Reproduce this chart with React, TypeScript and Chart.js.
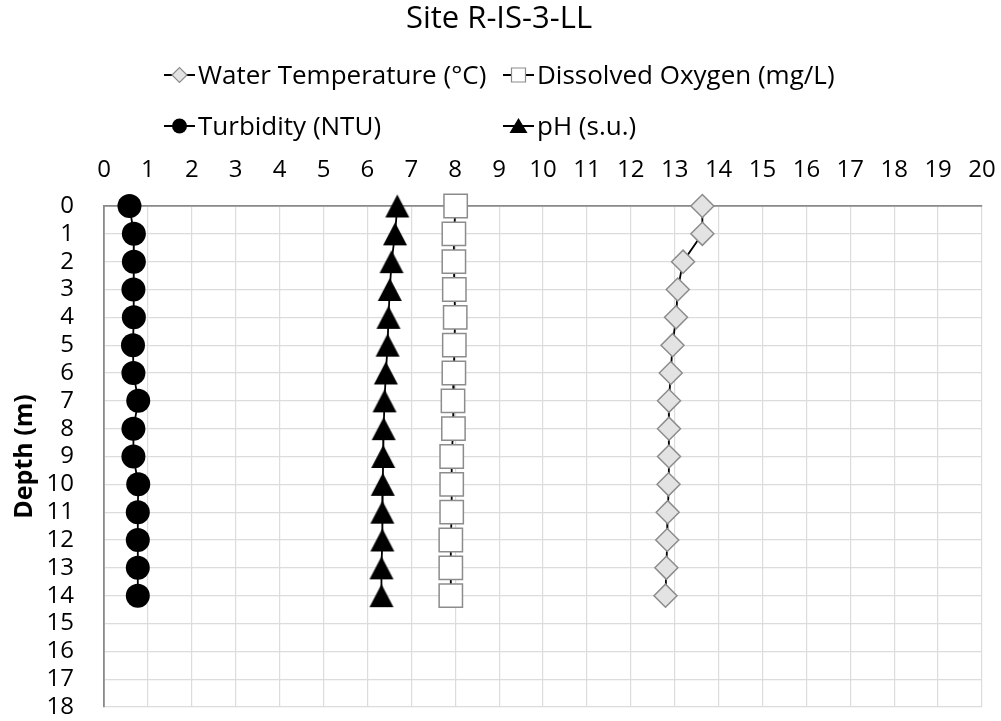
import React, { useEffect, useRef } from 'react';
import { Chart, registerables } from 'chart.js';

Chart.register(...registerables);

// ---------- data ----------
const chartTitle = 'Site R-IS-3-LL';
const depths = [0, 1, 2, 3, 4, 5, 6, 7, 8, 9, 10, 11, 12, 13, 14];
const waterTemperature = [13.63, 13.63, 13.19, 13.07, 13.03, 12.95, 12.91, 12.87, 12.87, 12.87, 12.86, 12.84, 12.83, 12.81, 12.79];
const dissolvedOxygen = [8.01, 7.97, 7.97, 7.98, 8.0, 7.98, 7.97, 7.95, 7.96, 7.92, 7.92, 7.92, 7.9, 7.9, 7.9];
const turbidity = [0.58, 0.68, 0.68, 0.67, 0.68, 0.66, 0.67, 0.78, 0.67, 0.67, 0.78, 0.77, 0.77, 0.77, 0.77];
const pH = [6.68, 6.63, 6.55, 6.51, 6.48, 6.46, 6.42, 6.39, 6.37, 6.36, 6.35, 6.34, 6.34, 6.32, 6.32];
const seriesNames = ['Water Temperature (°C)', 'Dissolved Oxygen (mg/L)', 'Turbidity (NTU)', 'pH (s.u.)'];
const xMin = 0;
const xMax = 20;
const yMin = 0;
const yMax = 18;
const yAxisTitle = 'Depth (m)';

const FONT = '"Open Sans", "Noto Sans", sans-serif';

function pts(values: number[]) {
  return values.map((v, i) => ({ x: v, y: depths[i] }));
}

function makeTriangle(w: number, h: number) {
  const c = document.createElement('canvas');
  c.width = w + 2;
  c.height = h + 2;
  const g = c.getContext('2d')!;
  g.fillStyle = '#000';
  g.beginPath();
  g.moveTo(c.width / 2, 1);
  g.lineTo(w + 1, h + 1);
  g.lineTo(1, h + 1);
  g.closePath();
  g.fill();
  return c;
}

type Marker = 'diamond' | 'square' | 'circle' | 'triangle';

function drawMarker(ctx: CanvasRenderingContext2D, kind: Marker, x: number, y: number) {
  ctx.save();
  ctx.beginPath();
  if (kind === 'diamond') {
    const r = 7.5;
    ctx.moveTo(x - r, y);
    ctx.lineTo(x, y - r);
    ctx.lineTo(x + r, y);
    ctx.lineTo(x, y + r);
    ctx.closePath();
    ctx.fillStyle = '#e3e3e3';
    ctx.fill();
    ctx.strokeStyle = '#8c8c8c';
    ctx.lineWidth = 1.2;
    ctx.stroke();
  } else if (kind === 'square') {
    const s = 7;
    ctx.rect(x - s, y - s, 2 * s, 2 * s);
    ctx.fillStyle = '#ffffff';
    ctx.fill();
    ctx.strokeStyle = '#8c8c8c';
    ctx.lineWidth = 1.2;
    ctx.stroke();
  } else if (kind === 'circle') {
    ctx.arc(x, y, 7.5, 0, Math.PI * 2);
    ctx.fillStyle = '#000';
    ctx.fill();
  } else {
    ctx.moveTo(x, y - 8);
    ctx.lineTo(x + 9, y + 7);
    ctx.lineTo(x - 9, y + 7);
    ctx.closePath();
    ctx.fillStyle = '#000';
    ctx.fill();
  }
  ctx.restore();
}

const legendItems: { name: string; marker: Marker; col: number; row: number }[] = [
  { name: seriesNames[0], marker: 'diamond', col: 0, row: 0 },
  { name: seriesNames[1], marker: 'square', col: 1, row: 0 },
  { name: seriesNames[2], marker: 'circle', col: 0, row: 1 },
  { name: seriesNames[3], marker: 'triangle', col: 1, row: 1 },
];

const overlayPlugin = {
  id: 'titleAndLegend',
  afterDraw(chart: any) {
    const ctx: CanvasRenderingContext2D = chart.ctx;
    ctx.save();
    ctx.fillStyle = '#000';
    ctx.textAlign = 'center';
    ctx.textBaseline = 'alphabetic';
    ctx.font = `31px ${FONT}`;
    ctx.fillText(chartTitle, 499, 28);

    const colX = [164, 503];
    const rowY = [75, 126];
    legendItems.forEach((it) => {
      const x0 = colX[it.col];
      const cy = rowY[it.row];
      ctx.beginPath();
      ctx.moveTo(x0, cy);
      ctx.lineTo(x0 + 31, cy);
      ctx.strokeStyle = '#000';
      ctx.lineWidth = 2;
      ctx.stroke();
      drawMarker(ctx, it.marker, x0 + 15.5, cy);
      ctx.fillStyle = '#000';
      ctx.textAlign = 'left';
      ctx.textBaseline = 'alphabetic';
      ctx.font = `26px ${FONT}`;
      ctx.fillText(it.name, x0 + 34, cy + 9);
    });
    ctx.restore();
  },
};

export default function App() {
  const ref = useRef<HTMLCanvasElement | null>(null);

  useEffect(() => {
    if (!ref.current) return;
    const tri = makeTriangle(24, 23);
    const common = { showLine: true, borderColor: '#000', borderWidth: 1.8, clip: false as any };
    const chart = new Chart(ref.current, {
      type: 'scatter',
      data: {
        datasets: [
          {
            ...common,
            label: seriesNames[0],
            data: pts(waterTemperature),
            pointStyle: 'rectRot',
            pointRadius: 11.5,
            pointBackgroundColor: '#e3e3e3',
            pointBorderColor: '#8c8c8c',
            pointBorderWidth: 1.5,
          },
          {
            ...common,
            label: seriesNames[1],
            data: pts(dissolvedOxygen),
            pointStyle: 'rect',
            pointRadius: 16.5,
            pointBackgroundColor: '#ffffff',
            pointBorderColor: '#8c8c8c',
            pointBorderWidth: 1.5,
          },
          {
            ...common,
            label: seriesNames[2],
            data: pts(turbidity),
            pointStyle: 'circle',
            pointRadius: 12,
            pointBackgroundColor: '#000',
            pointBorderColor: '#000',
            pointBorderWidth: 0,
          },
          {
            ...common,
            label: seriesNames[3],
            data: pts(pH),
            pointStyle: tri as any,
            pointRadius: 12,
            pointBackgroundColor: '#000',
            pointBorderColor: '#000',
            pointBorderWidth: 0,
          },
        ],
      },
      options: {
        responsive: false,
        animation: false,
        devicePixelRatio: 1,
        layout: { autoPadding: false, padding: { top: 0, left: 0, right: 19, bottom: 14 } },
        plugins: {
          legend: { display: false },
          title: { display: false },
          tooltip: { enabled: false },
        },
        events: [],
        scales: {
          x: {
            type: 'linear',
            position: 'top',
            min: xMin,
            max: xMax,
            ticks: {
              stepSize: 1,
              padding: 21,
              color: '#000',
              font: { family: FONT, size: 24 },
              maxRotation: 0,
              autoSkip: false,
            },
            grid: { color: '#dcdcdc', lineWidth: 1.2, drawTicks: false },
            border: { color: '#8a8a8a', width: 1.8 },
            afterFit: (s: any) => {
              s.height = 206;
              s.paddingLeft = 0;
              s.paddingRight = 0;
              s.paddingTop = 0;
              s.paddingBottom = 0;
            },
          },
          y: {
            type: 'linear',
            reverse: true,
            min: yMin,
            max: yMax,
            ticks: {
              stepSize: 1,
              padding: 30,
              color: '#000',
              font: { family: FONT, size: 24 },
              autoSkip: false,
            },
            title: {
              display: true,
              text: yAxisTitle,
              color: '#000',
              font: { family: FONT, size: 25, weight: 'bold' },
              padding: { top: 10, bottom: 0 },
            },
            grid: { color: '#dcdcdc', lineWidth: 1.2, drawTicks: false },
            border: { color: '#8a8a8a', width: 1.8 },
            afterFit: (s: any) => {
              s.width = 104;
              s.paddingLeft = 0;
              s.paddingRight = 0;
              s.paddingTop = 0;
              s.paddingBottom = 0;
            },
          },
        },
      } as any,
      plugins: [overlayPlugin],
    });
    return () => chart.destroy();
  }, []);

  return (
    <div style={{ position: 'fixed', left: 0, top: 0, width: 1001, height: 721, background: '#fff' }}>
      <canvas ref={ref} width={1001} height={721} style={{ display: 'block', width: 1001, height: 721 }} />
    </div>
  );
}
